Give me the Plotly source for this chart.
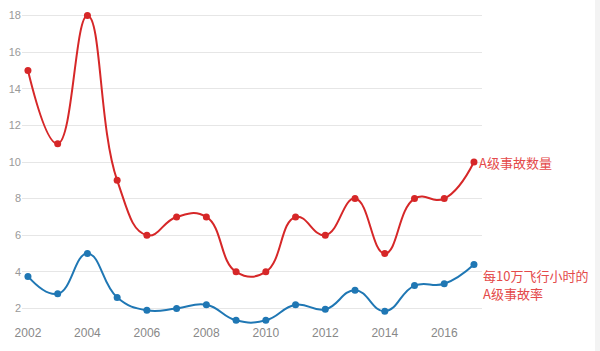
import plotly.graph_objects as go

years = list(range(2002, 2018))
accidents = [15, 11, 18, 9, 6, 7, 7, 4, 4, 7, 6, 8, 5, 8, 8, 10]
rate = [3.75, 2.8, 5.0, 2.6, 1.9, 2.0, 2.2, 1.35, 1.35, 2.2, 1.95, 3.0, 1.85, 3.25, 3.35, 4.4]
x_ticks = [2002, 2004, 2006, 2008, 2010, 2012, 2014, 2016]
y_ticks = [2, 4, 6, 8, 10, 12, 14, 16, 18]
label_count = "A级事故数量"
label_rate_1 = "每10万飞行小时的"
label_rate_2 = "A级事故率"

red = "#d62728"
blue = "#1f77b4"
text_red = "#e44a4a"

fig = go.Figure()
fig.add_trace(go.Scatter(x=years, y=accidents, mode="lines+markers", cliponaxis=False,
                         line=dict(color=red, width=2, shape="spline", smoothing=1.3),
                         marker=dict(color=red, size=7)))
fig.add_trace(go.Scatter(x=years, y=rate, mode="lines+markers", cliponaxis=False,
                         line=dict(color=blue, width=2, shape="spline", smoothing=1.3),
                         marker=dict(color=blue, size=7)))

fig.add_annotation(x=years[-1], y=accidents[-1], text=label_count, showarrow=False,
                   xanchor="left", yanchor="middle", xshift=3,
                   font=dict(family="Noto Sans CJK SC", size=13, color=text_red))
fig.add_annotation(x=years[-1], y=rate[-1], text=label_rate_1, showarrow=False,
                   xanchor="left", yanchor="middle", xshift=7, yshift=-11,
                   font=dict(family="Noto Sans CJK SC", size=13, color=text_red))
fig.add_annotation(x=years[-1], y=rate[-1], text=label_rate_2, showarrow=False,
                   xanchor="left", yanchor="middle", xshift=7, yshift=-29,
                   font=dict(family="Noto Sans CJK SC", size=13, color=text_red))

fig.add_shape(type="rect", xref="paper", yref="paper", x0=1.2457, x1=1.27, y0=-0.2, y1=1.1,
              line=dict(width=0), fillcolor="#f3f3f3", layer="below")

fig.update_layout(
    width=600, height=351,
    margin=dict(l=22, r=118, t=0, b=27),
    paper_bgcolor="white", plot_bgcolor="white",
    showlegend=False,
    font=dict(family="Liberation Sans, Arial", size=11, color="#888888"),
)
fig.update_xaxes(range=[2001.8, 2017.27], tickvals=x_ticks, showgrid=False, zeroline=False,
                 showline=False, ticks="", ticklabelstandoff=0,
                 tickfont=dict(size=12, color="#888888"))
fig.update_yaxes(range=[1.15, 18.85], tickvals=y_ticks, showgrid=True, gridcolor="#e6e6e6",
                 zeroline=False, showline=False, ticks="", tickfont=dict(size=11, color="#999999"))

fig.write_html("out.html")
